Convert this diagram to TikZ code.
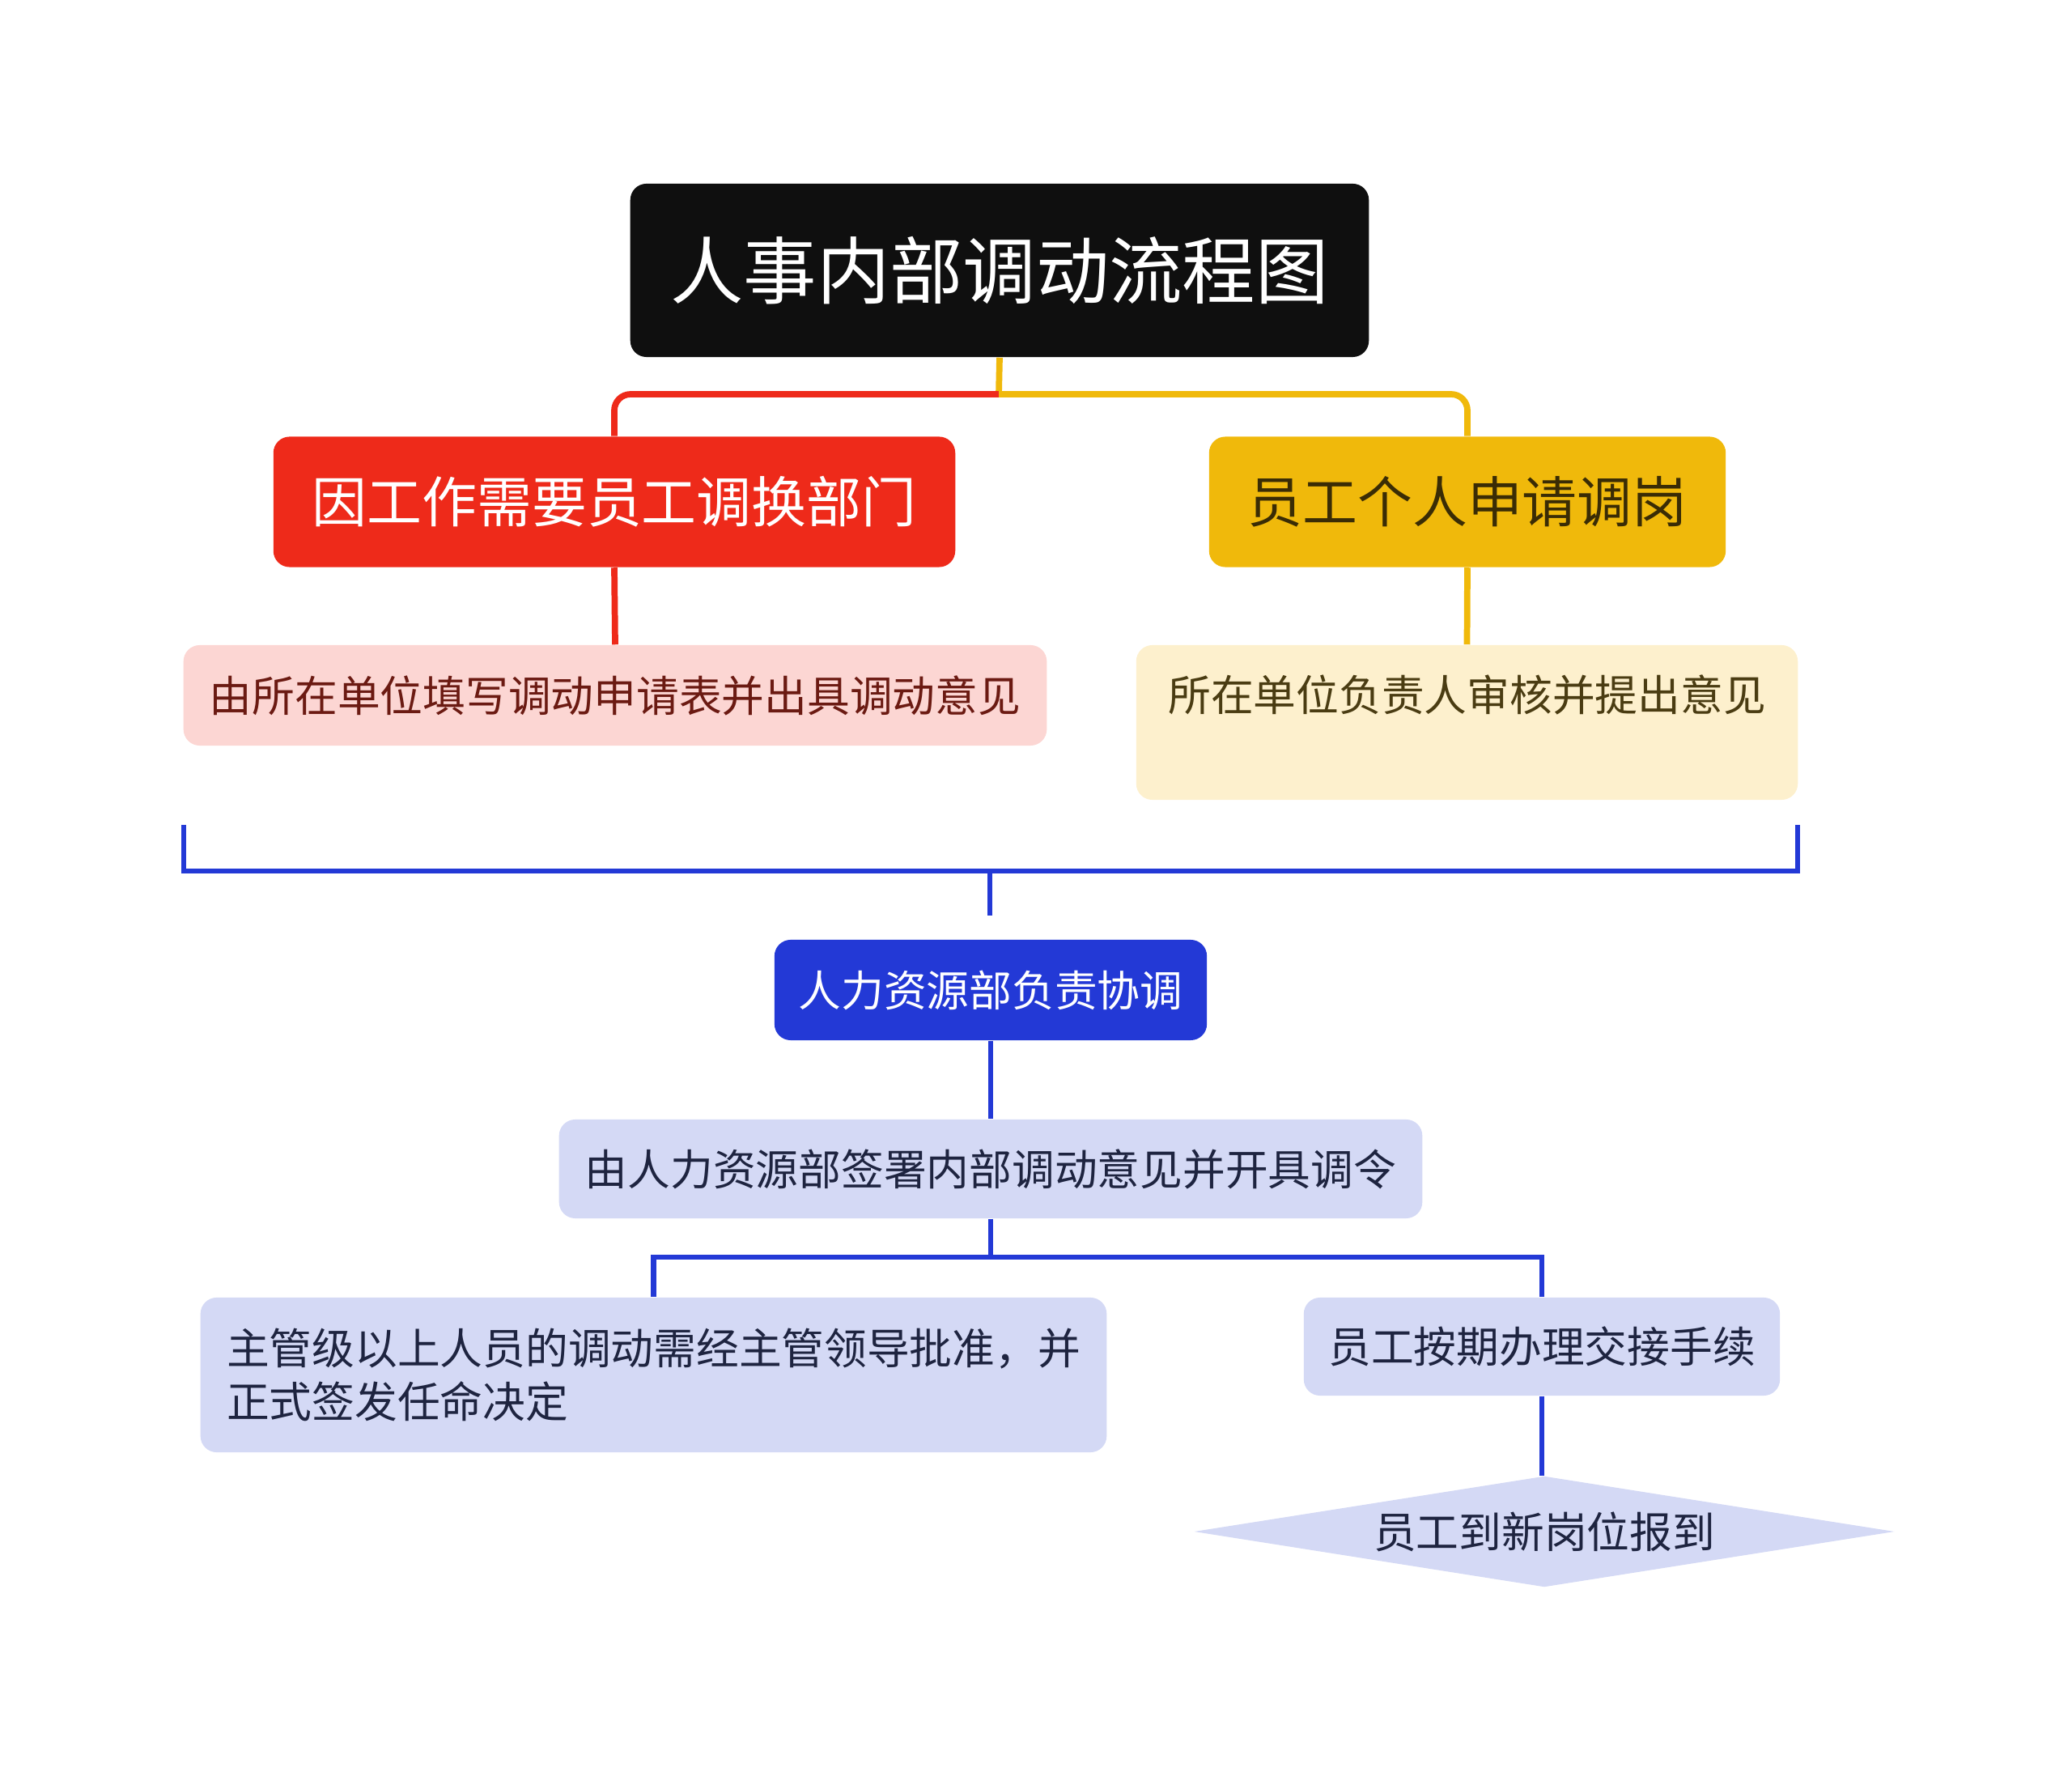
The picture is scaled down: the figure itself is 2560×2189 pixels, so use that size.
\documentclass[tikz,border=0pt]{standalone}
\usepackage{fontspec}
\usepackage{amsmath}
\newfontfamily\cjk{Noto Sans CJK SC}
\usetikzlibrary{shapes.geometric}
\definecolor{rootblack}{HTML}{0F0F0F}
\definecolor{redmain}{HTML}{EE2A1A}
\definecolor{yellowmain}{HTML}{F0B90B}
\definecolor{pinkbox}{HTML}{FCD6D3}
\definecolor{creambox}{HTML}{FDF0CD}
\definecolor{hrblue}{HTML}{2339D6}
\definecolor{lavbox}{HTML}{D4D9F5}
\definecolor{pinktext}{HTML}{6B1A12}
\definecolor{creamtext}{HTML}{4A3C12}
\definecolor{yellowtext}{HTML}{3A2C05}
\definecolor{lavtext}{HTML}{1E2440}

\begin{document}
\begin{tikzpicture}[x=0.01cm, y=-0.01cm,
    box/.style={rounded corners=0.2cm, inner sep=0pt, align=center, font=\cjk\fontsize{15}{19}\selectfont},
    bigbox/.style={box, font=\cjk\fontsize{19.3}{23}\selectfont},
    redline/.style={draw=redmain, line width=2.2pt},
    yline/.style={draw=yellowmain, line width=2.2pt},
    blueline/.style={draw=hrblue, line width=1.8pt}]
    \useasboundingbox (0,0) rectangle (2560,2189);
    % top
    \node[box, fill=rootblack, text=white, minimum width=9.12cm, minimum height=2.14cm,
          font=\cjk\fontsize{25.7}{30}\selectfont] (root) at (1235,334) {人事内部调动流程图};
    \node[bigbox, fill=redmain, text=white, minimum width=8.42cm, minimum height=1.61cm] (red) at (759,620) {因工作需要员工调换部门};
    \node[bigbox, fill=yellowmain, text=yellowtext, minimum width=6.38cm, minimum height=1.61cm] (yellow) at (1813,620) {员工个人申请调岗};
    \node[box, fill=pinkbox, text=pinktext, minimum width=10.66cm, minimum height=1.24cm] (pink) at (760,859) {由所在单位填写调动申请表并出具调动意见};
    \node[box, fill=creambox, text=creamtext, minimum width=8.17cm, text height=0.82cm, text depth=1.09cm] (cream) at (1812.5,892.5) {所在单位负责人审核并提出意见};
    % HR part
    \node[box, fill=hrblue, text=white, minimum width=5.34cm, minimum height=1.24cm] (hr) at (1224,1223) {人力资源部负责协调};
    \node[box, fill=lavbox, text=lavtext, minimum width=10.66cm, minimum height=1.22cm] (sign) at (1224,1444) {由人力资源部签署内部调动意见并开具调令};
    \node[box, fill=lavbox, text=lavtext, minimum width=11.19cm, minimum height=1.91cm, align=left] (approve) at (807.5,1698.5)
        {主管级以上人员的调动需经主管领导批准，并\\正式签发任命决定};
    \node[box, fill=lavbox, text=lavtext, minimum width=5.88cm, minimum height=1.21cm] (handover) at (1905,1663.5) {员工按期办理交接手续};
    \node[diamond, aspect=6.3, fill=lavbox, text=lavtext, inner sep=0pt, minimum width=8.65cm, minimum height=1.37cm,
          font=\cjk\fontsize{15}{19}\selectfont] (report) at (1908,1892) {员工到新岗位报到};
    % connectors
    \coordinate (split1) at (1234,487);
    \draw[yline] (root.south) -- (split1);
    \draw[redline, rounded corners=0.2cm] (split1) -| (red.north);
    \draw[yline, rounded corners=0.2cm] (split1) -| (yellow.north);
    \draw[redline] (red.south) -- (pink.north);
    \draw[yline] (yellow.south) -- (cream.north);
    \coordinate (brL) at (227,1019);
    \coordinate (brR) at (2221,1019);
    \coordinate (brM) at (1223,1076);
    \coordinate (brB) at (1223,1131);
    \draw[blueline] (brL) |- (brM) -| (brR);
    \draw[blueline] (brM) -- (brB);
    \draw[blueline] (hr.south) -- (sign.north);
    \coordinate (split2) at (1224,1553);
    \draw[blueline] (sign.south) -- (split2);
    \draw[blueline] (split2) -| (approve.north);
    \draw[blueline] (split2) -| (handover.north);
    \draw[blueline] (handover.south) -- (handover.south |- report.north);
\end{tikzpicture}
\end{document}
